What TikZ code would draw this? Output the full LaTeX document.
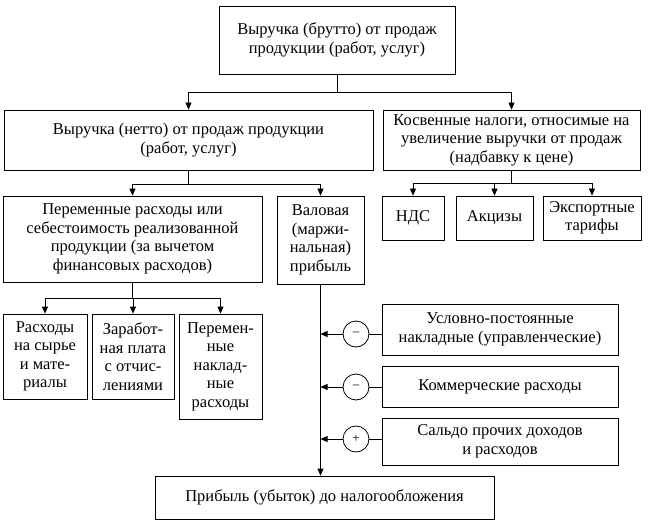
\documentclass[tikz,border=0pt]{standalone}
\usepackage{fontspec}
\setmainfont{Liberation Serif}
\usetikzlibrary{arrows.meta}
\tikzset{
  box/.style={draw, line width=0.8bp, align=center, inner sep=1bp, font=\fontsize{16.5bp}{18.5bp}\selectfont},
  sign/.style={draw, circle, line width=0.8bp, minimum size=26bp, inner sep=0pt, font=\fontsize{13bp}{13bp}\selectfont},
  conn/.style={line width=0.8bp},
  arr/.style={line width=0.8bp, -{Triangle[length=7bp,width=6bp]}},
}
\begin{document}
\begin{tikzpicture}[x=1bp,y=-1bp]
\useasboundingbox (0,0) rectangle (648,528);
\node[box, minimum width=236bp, minimum height=68bp] (top) at (337,40) {Выручка (брутто) от продаж\\продукции (работ, услуг)};
\node[box, minimum width=369bp, minimum height=60bp] (netto) at (188.5,140) {Выручка (нетто) от продаж продукции\\(работ, услуг)};
\node[box, minimum width=257bp, minimum height=60bp] (kosv) at (511.5,140) {Косвенные налоги, относимые на\\увеличение выручки от продаж\\(надбавку к цене)};
\node[box, minimum width=259bp, minimum height=86bp] (perem) at (132.5,239) {Переменные расходы или\\себестоимость реализованной\\продукции (за вычетом\\финансовых расходов)};
\node[box, minimum width=87bp, minimum height=88bp] (valov) at (320.5,240) {Валовая\\(маржи-\\нальная)\\прибыль};
\node[box, minimum width=62bp, minimum height=44bp] (nds) at (413,218) {НДС};
\node[box, minimum width=77bp, minimum height=44bp] (akciz) at (494.5,218) {Акцизы};
\node[box, minimum width=98bp, minimum height=44bp] (eksp) at (592,218) {Экспортные\\тарифы};
\node[box, minimum width=84bp, minimum height=85bp] (rash) at (45,356.5) {Расходы\\на сырье\\и мате-\\риалы};
\node[box, minimum width=82bp, minimum height=85bp] (zarab) at (133,356.5) {Заработ-\\ная плата\\с отчис-\\лениями};
\node[box, minimum width=83bp, minimum height=105bp] (nakl) at (220.5,366.5) {Перемен-\\ные\\наклад-\\ные\\расходы};
\node[box, minimum width=236bp, minimum height=51bp] (uslov) at (500,329.5) {Условно-постоянные\\накладные (управленческие)};
\node[box, minimum width=236bp, minimum height=41bp] (komm) at (500,386.5) {Коммерческие расходы};
\node[box, minimum width=236bp, minimum height=47bp] (saldo) at (500,441.5) {Сальдо прочих доходов\\и расходов};
\node[box, minimum width=339bp, minimum height=43bp] (prib) at (324.5,497.5) {Прибыль (убыток) до налогообложения};
\node[sign] (s1) at (356,334) {–};
\node[sign] (s2) at (356,387) {–};
\node[sign] (s3) at (356,439) {+};
% top level
\coordinate (j1) at (337,92);
\draw[conn] (top.south) -- (j1);
\draw[arr] (j1) -| (netto.north);
\draw[arr] (j1) -| (kosv.north);
% netto
\coordinate (j2) at (188.5,184);
\draw[conn] (netto.south) -- (j2);
\draw[arr] (j2) -| (perem.north);
\draw[arr] (j2) -| (valov.north);
% kosv
\coordinate (j3) at (511.5,183);
\draw[conn] (kosv.south) -- (j3);
\draw[arr] (j3) -| (nds.north);
\draw[arr] (j3) -| (akciz.north);
\draw[arr] (j3) -| (eksp.north);
% perem
\coordinate (j4) at (132.5,298);
\draw[conn] (perem.south) -- (j4);
\draw[arr] (j4) -| (rash.north);
\draw[arr] (j4) -| (zarab.north);
\draw[arr] (j4) -| (nakl.north);
% main vertical
\draw[arr] (valov.south) -- (valov.south |- prib.north);
\draw[arr] (s1.west) -- (s1.west -| valov.south);
\draw[arr] (s2.west) -- (s2.west -| valov.south);
\draw[arr] (s3.west) -- (s3.west -| valov.south);
\draw[conn] (s1.east) -- (s1.east -| uslov.west);
\draw[conn] (s2.east) -- (s2.east -| komm.west);
\draw[conn] (s3.east) -- (s3.east -| saldo.west);
\end{tikzpicture}
\end{document}
